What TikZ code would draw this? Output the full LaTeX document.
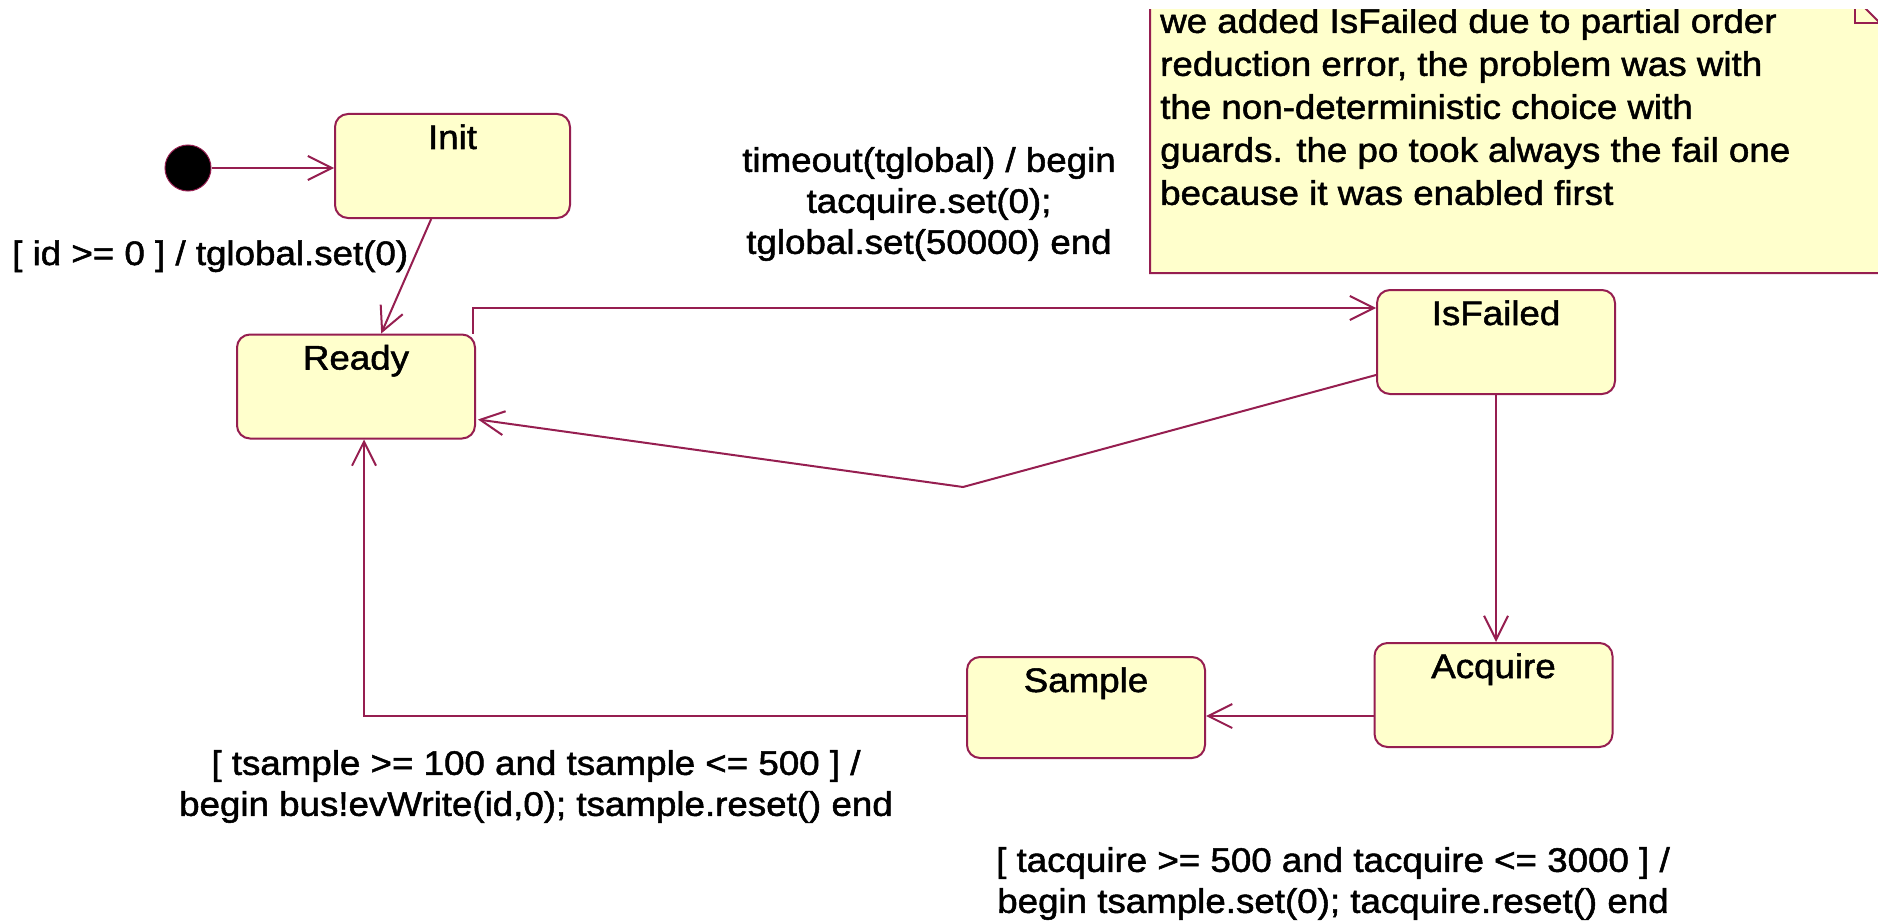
\documentclass[tikz,border=0pt]{standalone}
\usepackage{fontspec}
\setmainfont{Liberation Sans}[FakeStretch=1.08,FakeBold=1.5]
\usetikzlibrary{arrows.meta,calc}
\definecolor{roseline}{RGB}{150,30,80}
\definecolor{rosefill}{RGB}{255,255,204}
\begin{document}
\begin{tikzpicture}[x=1pt,y=-1pt,
  every node/.style={font=\fontsize{34}{41}\selectfont},
  state/.style={draw=roseline, fill=rosefill, line width=2pt, rounded corners=13pt,
    minimum width=238pt, inner xsep=0pt, inner ysep=0pt,
    text height=35pt, text depth=69pt},
  edge/.style={draw=roseline, line width=2pt,
    -{Straight Barb[length=24pt,width=24pt]}},
  lbl/.style={inner sep=0pt, align=center}]

% canvas
\fill[white] (0,0) rectangle (1878,923);
\useasboundingbox (0,0) rectangle (1878,923);

% comment note in the upper right corner
\begin{scope}
  \clip (0,10) rectangle (1878,923);
  \filldraw[draw=roseline, fill=rosefill, line width=2pt]
    (1150,-2) -- (1855,-2) -- (1880,23) -- (1880,273) -- (1150,273) -- cycle;
  \draw[roseline, line width=2pt] (1855,-2) -- (1855,23) -- (1880,23);
  \node[anchor=north west, align=left, inner sep=0pt,
        font=\fontsize{34}{43}\selectfont] (notetext) at (1160,8)
    {we added IsFailed due to partial order\\
     reduction error, the problem was with\\
     the non-deterministic choice with\\
     guards. the po took always the fail one\\
     because it was enabled first};
\end{scope}

% initial pseudo-state
\node[circle, fill=black, draw=roseline, line width=1pt,
      minimum size=46pt, inner sep=0pt] (dot) at (188,168) {};

% states
\node[state, minimum width=235pt] (Init) at (452.5,166) {Init};
\node[state] (Ready)    at (356,386.5)  {Ready};
\node[state] (IsFailed) at (1496,342)   {IsFailed};
\node[state] (Acquire)  at (1493.5,695) {Acquire};
\node[state, text depth=66pt] (Sample) at (1086,707.5) {Sample};

% transition labels
\node[lbl, anchor=base west] (initlbl) at (12,265)
  {[ id >= 0 ] / tglobal.set(0)};
\node[lbl, anchor=north] (timeoutlbl) at (929,147)
  {timeout(tglobal) / begin\\tacquire.set(0);\\tglobal.set(50000) end};
\node[lbl, anchor=north] (samplelbl) at (536,750)
  {[ tsample >= 100 and tsample <= 500 ] /\\begin bus!evWrite(id,0); tsample.reset() end};
\node[lbl, anchor=north] (acqlbl) at (1333,847)
  {[ tacquire >= 500 and tacquire <= 3000 ] /\\begin tsample.set(0); tacquire.reset() end};

% transitions
\draw[edge] (dot) -- (dot -| Init.west);
\draw[edge] ($(Init.south west)!0.41!(Init.south east)$)
         -- ($(Ready.north west)!0.605!(Ready.north east)$);
\draw[edge] ($(Ready.north east)+(-3,0)$) |- ($(IsFailed.north west)+(0,19)$);
\coordinate (kink) at (963,487);
\draw[edge] ($(IsFailed.west)+(0,33)$) -- (kink) -- ($(Ready.east)+(2,33)$);
\draw[edge] (IsFailed.south) -- (IsFailed.south |- Acquire.north);
\coordinate (acqout) at ($(Acquire.west)+(0,21)$);
\draw[edge] (acqout) -- (acqout -| Sample.east);
\coordinate (smpout) at ($(Sample.west)+(0,8.5)$);
\draw[edge] (smpout) -| ($(Ready.south)+(8,0)$);
\end{tikzpicture}
\end{document}
